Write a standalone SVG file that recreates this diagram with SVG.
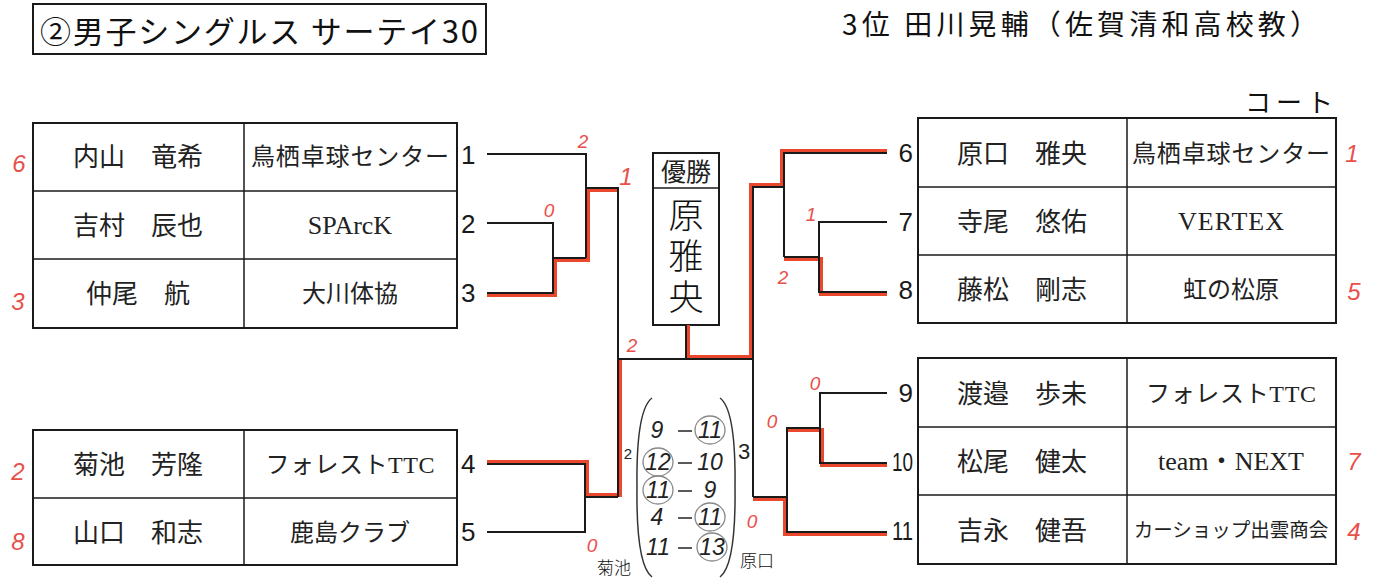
<svg xmlns="http://www.w3.org/2000/svg" width="1383" height="588" viewBox="0 0 1383 588">
<style>
.tbl{fill:none;stroke:#1a1a1a;stroke-width:2}
.div{stroke:#1a1a1a;stroke-width:1.5}
.ln{fill:none;stroke:#1a1a1a;stroke-width:2}
.win{fill:none;stroke:#e9482c;stroke-width:4}
.nm{font-family:"Liberation Serif","Noto Sans CJK JP",serif;font-size:26px;fill:#222;text-anchor:middle}
.org{font-family:"Liberation Serif","Noto Sans CJK JP",serif;font-size:24px;fill:#222;text-anchor:middle}
.lat{font-size:26px}
.no{font-family:"Liberation Sans",sans-serif;font-size:26px;fill:#1a1a1a}
.noR{font-family:"Liberation Sans",sans-serif;font-size:26px;fill:#1a1a1a;text-anchor:end}
.hw{font-family:"Liberation Sans",sans-serif;font-style:italic;font-size:24px;fill:#e8504a;text-anchor:middle}
.hws{font-family:"Liberation Sans",sans-serif;font-style:italic;font-size:19px;fill:#e8504a;text-anchor:middle}
.sc{font-family:"Liberation Sans",sans-serif;font-style:italic;font-size:23px;fill:#222;text-anchor:middle}
.cir{fill:none;stroke:#888;stroke-width:1.3}
.hd{font-family:"Noto Sans CJK JP",sans-serif;fill:#111}
</style>
<rect width="1383" height="588" fill="#fff"/>

<g id="title">
<rect x="33" y="4" width="453" height="50" class="tbl"/>
<text x="40" y="43" class="hd" font-size="31" textLength="438">②男子シングルス サーテイ30</text>
</g>
<g id="third-place">
<text x="842" y="35" class="hd" font-size="28" textLength="476">3位 田川晃輔（佐賀清和高校教）</text>
</g>
<g id="court-label">
<text x="1245" y="112" class="hd" font-size="26" textLength="88">コート</text>
</g>

<g id="table-left-top">
<rect x="33" y="123" width="424" height="205" class="tbl"/>
<line x1="33" y1="191" x2="457" y2="191" class="div"/>
<line x1="33" y1="259" x2="457" y2="259" class="div"/>
<line x1="244" y1="123" x2="244" y2="328" class="div"/>
<g id="player1"><text x="138" y="166" class="nm">内山　竜希</text><text x="350" y="165" class="org" textLength="198">鳥栖卓球センター</text><text x="461" y="164" class="no">1</text></g>
<g id="player2"><text x="138" y="235" class="nm">吉村　辰也</text><text x="350" y="234" class="org lat">SPArcK</text><text x="461" y="233" class="no">2</text></g>
<g id="player3"><text x="138" y="303" class="nm">仲尾　航</text><text x="350" y="302" class="org">大川体協</text><text x="461" y="302" class="no">3</text></g>
</g>

<g id="table-left-bottom">
<rect x="33" y="430" width="424" height="135" class="tbl"/>
<line x1="33" y1="498" x2="457" y2="498" class="div"/>
<line x1="244" y1="430" x2="244" y2="565" class="div"/>
<g id="player4"><text x="138" y="474" class="nm">菊池　芳隆</text><text x="350" y="473" class="org" textLength="169">フォレストTTC</text><text x="461" y="473" class="no">4</text></g>
<g id="player5"><text x="138" y="542" class="nm">山口　和志</text><text x="350" y="541" class="org">鹿島クラブ</text><text x="461" y="541" class="no">5</text></g>
</g>

<g id="table-right-top">
<rect x="918" y="118" width="418" height="205" class="tbl"/>
<line x1="918" y1="187" x2="1336" y2="187" class="div"/>
<line x1="918" y1="255" x2="1336" y2="255" class="div"/>
<line x1="1127" y1="118" x2="1127" y2="323" class="div"/>
<g id="player6"><text x="1022" y="163" class="nm">原口　雅央</text><text x="1231" y="162" class="org" textLength="198">鳥栖卓球センター</text><text x="913" y="162" class="noR">6</text></g>
<g id="player7"><text x="1022" y="231" class="nm">寺尾　悠佑</text><text x="1231" y="230" class="org lat" textLength="106">VERTEX</text><text x="913" y="231" class="noR">7</text></g>
<g id="player8"><text x="1022" y="299" class="nm">藤松　剛志</text><text x="1231" y="298" class="org">虹の松原</text><text x="913" y="299" class="noR">8</text></g>
</g>

<g id="table-right-bottom">
<rect x="918" y="358" width="418" height="206" class="tbl"/>
<line x1="918" y1="427" x2="1336" y2="427" class="div"/>
<line x1="918" y1="495" x2="1336" y2="495" class="div"/>
<line x1="1127" y1="358" x2="1127" y2="564" class="div"/>
<g id="player9"><text x="1022" y="403" class="nm">渡邉　歩未</text><text x="1231" y="402" class="org" textLength="170">フォレストTTC</text><text x="913" y="402" class="noR">9</text></g>
<g id="player10"><text x="1022" y="471" class="nm">松尾　健太</text><text x="1231" y="470" class="org lat" textLength="146">team・NEXT</text><text x="913" y="471" class="noR" textLength="21" lengthAdjust="spacingAndGlyphs">10</text></g>
<g id="player11"><text x="1022" y="540" class="nm">吉永　健吾</text><text x="1231" y="537" class="org" style="font-size:19.5px">カーショップ出雲商会</text><text x="913" y="540" class="noR" textLength="21" lengthAdjust="spacingAndGlyphs">11</text></g>
</g>

<g id="champion">
<rect x="653" y="153" width="66" height="172" class="tbl"/>
<line x1="653" y1="188" x2="719" y2="188" class="div"/>
<text x="686" y="181" class="org" style="font-size:25px">優勝</text>
<text x="686" y="197" class="hd" font-size="35" font-weight="300" fill="#333" style="writing-mode:vertical-rl" letter-spacing="6">原雅央</text>
</g>

<g id="connectors">
<path class="win" d="M487,295 H555 V260 H588 V190 H618"/>
<path class="win" d="M487,462 H587 V495 H620 V359"/>
<path class="win" d="M887,151 H782 V185 H751 V357 H688 V325"/>
<path class="win" d="M887,294 H821 V259 H784"/>
<path class="win" d="M887,465 H822 V430 H787"/>
<path class="win" d="M887,534 H785 V499 H753"/>
<path class="ln" d="M487,154 H586 V258"/>
<path class="ln" d="M487,223 H553 V293 H487"/>
<path class="ln" d="M553,258 H586"/>
<path class="ln" d="M586,188 H618 V497"/>
<path class="ln" d="M618,359 H753"/>
<path class="ln" d="M686,325 V359"/>
<path class="ln" d="M487,464 H585 V532 H487"/>
<path class="ln" d="M585,497 H618"/>
<path class="ln" d="M887,153 H784 V257"/>
<path class="ln" d="M887,222 H819 V292 H887"/>
<path class="ln" d="M784,257 H819"/>
<path class="ln" d="M784,187 H753 V497"/>
<path class="ln" d="M887,393 H820 V463 H887"/>
<path class="ln" d="M820,428 H787 V532 H887"/>
<path class="ln" d="M753,497 H787"/>
</g>

<g id="rankings">
<text x="19" y="172" class="hw">6</text>
<text x="18" y="310" class="hw">3</text>
<text x="18" y="480" class="hw">2</text>
<text x="18" y="550" class="hw">8</text>
<text x="1352" y="162" class="hw">1</text>
<text x="1354" y="300" class="hw">5</text>
<text x="1354" y="470" class="hw">7</text>
<text x="1354" y="540" class="hw">4</text>
</g>

<g id="game-scores">
<text x="583" y="148" class="hws">2</text>
<text x="549" y="217" class="hws">0</text>
<text x="626" y="185" class="hw">1</text>
<text x="632" y="352" class="hws">2</text>
<text x="592" y="552" class="hws">0</text>
<text x="811" y="221" class="hws">1</text>
<text x="783" y="284" class="hws">2</text>
<text x="815" y="390" class="hws">0</text>
<text x="772" y="428" class="hws">0</text>
<text x="752" y="528" class="hws">0</text>
</g>

<g id="final-score">
<path d="M652,398 Q636,410 637,487 Q636,565 652,577" fill="none" stroke="#333" stroke-width="1.5"/>
<path d="M720,398 Q736,410 735,487 Q736,565 720,577" fill="none" stroke="#333" stroke-width="1.5"/>
<text x="628" y="459" font-family="Liberation Sans,sans-serif" font-size="15" fill="#222" text-anchor="middle">2</text>
<text x="744" y="459" class="sc" style="font-style:normal;font-size:22px">3</text>
<text x="657" y="438" class="sc">9</text><line x1="678" y1="431" x2="692" y2="431" stroke="#222" stroke-width="1.5"/><text x="710" y="438" class="sc">11</text><ellipse cx="710" cy="430" rx="15" ry="14" class="cir"/>
<text x="658" y="470" class="sc">12</text><ellipse cx="658" cy="462" rx="15" ry="14" class="cir"/><line x1="678" y1="463" x2="692" y2="463" stroke="#222" stroke-width="1.5"/><text x="710" y="470" class="sc">10</text>
<text x="658" y="498" class="sc">11</text><ellipse cx="658" cy="490" rx="15" ry="14" class="cir"/><line x1="678" y1="491" x2="692" y2="491" stroke="#222" stroke-width="1.5"/><text x="710" y="498" class="sc">9</text>
<text x="657" y="525" class="sc">4</text><line x1="678" y1="518" x2="692" y2="518" stroke="#222" stroke-width="1.5"/><text x="710" y="525" class="sc">11</text><ellipse cx="710" cy="517" rx="15" ry="14" class="cir"/>
<text x="658" y="555" class="sc">11</text><line x1="678" y1="548" x2="692" y2="548" stroke="#222" stroke-width="1.5"/><text x="712" y="555" class="sc">13</text><ellipse cx="712" cy="547" rx="15" ry="14" class="cir"/>
<text x="614" y="574" class="hd" font-size="17" font-weight="300" text-anchor="middle" fill="#333">菊池</text>
<text x="757" y="567" class="hd" font-size="17" font-weight="300" text-anchor="middle" fill="#333">原口</text>
</g>
</svg>
